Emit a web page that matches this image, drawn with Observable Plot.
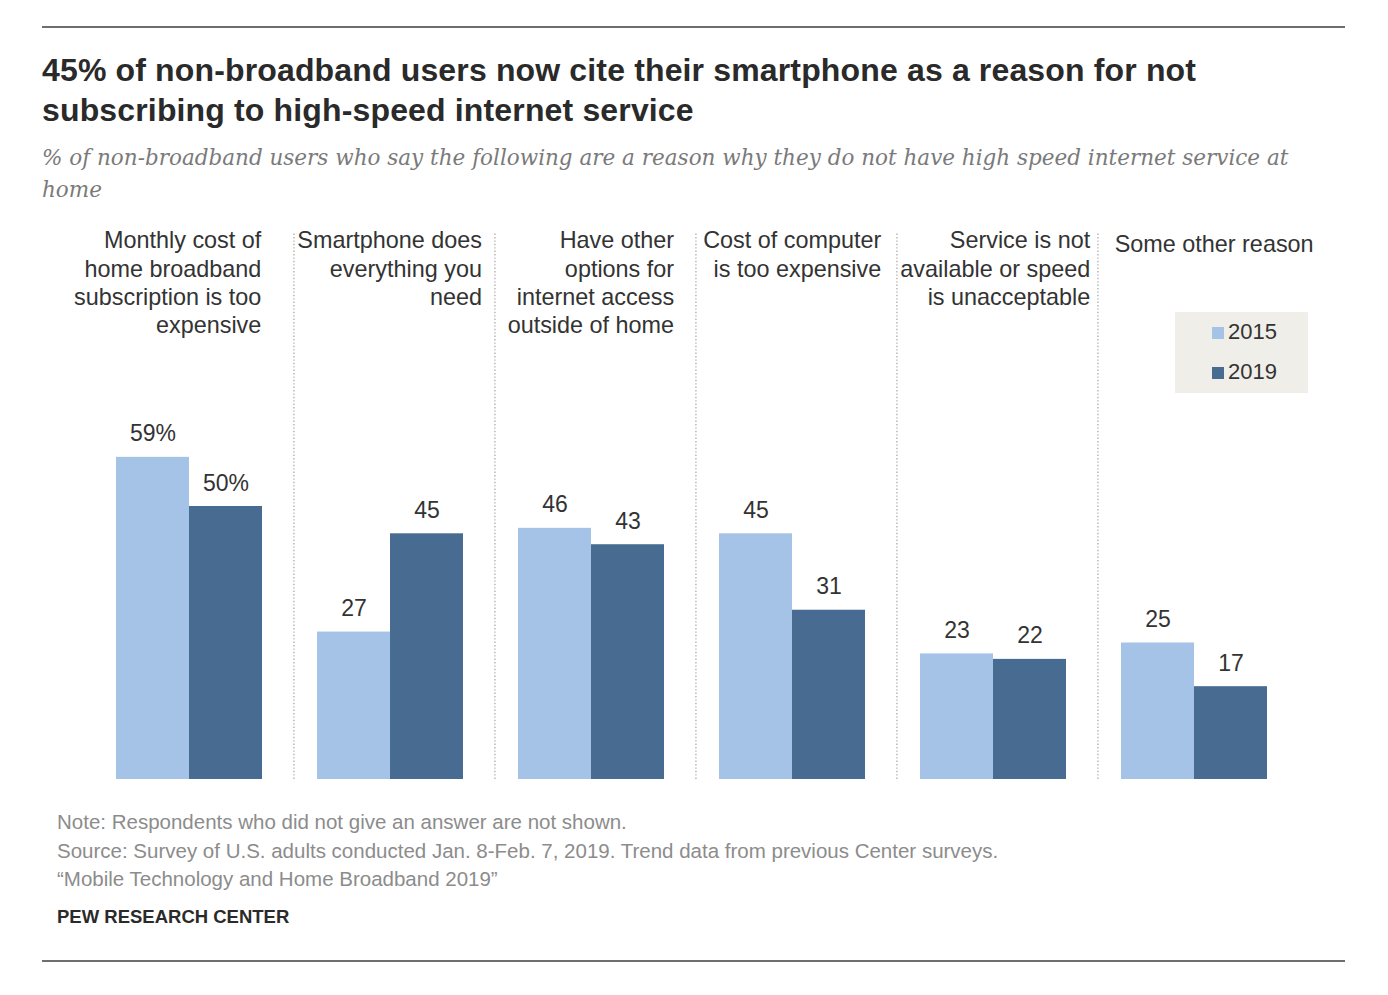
<!DOCTYPE html>
<html>
<head>
<meta charset="utf-8">
<script src="https://cdn.jsdelivr.net/npm/d3@7"></script>
<script src="https://cdn.jsdelivr.net/npm/@observablehq/plot@0.6"></script>
<style>
  html, body { margin: 0; padding: 0; background: #fff; }
  body { width: 1388px; height: 995px; position: relative; overflow: hidden; font-family: "Liberation Sans", Arial, sans-serif; }
  .hrule { position: absolute; left: 42px; width: 1303px; height: 2px; background: #6e6e6e; }
  #title { position: absolute; left: 42px; top: 50px; font-weight: bold; font-size: 32px; letter-spacing: 0.15px; line-height: 40px; color: #2a2a2a; white-space: nowrap; }
  #subtitle { position: absolute; left: 42px; top: 142px; font-family: "DejaVu Serif", serif; font-style: italic; font-size: 21.5px; line-height: 32px; color: #7a7a7a; white-space: nowrap; }
  #chart { position: absolute; left: 0; top: 220px; }
  #legend { position: absolute; left: 1175px; top: 312px; width: 133px; height: 81px; background: #efeee9; }
  .li { position: absolute; left: 37px; font-size: 22px; color: #333; line-height: 24px; height: 24px; }
  .li span.sw { display: inline-block; width: 12px; height: 12px; margin-right: 4px; vertical-align: 0px; }
  #footer { position: absolute; left: 57px; top: 808px; color: #8c8c8c; font-size: 20.5px; line-height: 28.5px; white-space: nowrap; }
  #pew { position: absolute; left: 57px; top: 904px; color: #2a2a2a; font-size: 18.5px; font-weight: bold; line-height: 26px; }
</style>
</head>
<body>
<div class="hrule" style="top:26px"></div>
<div id="title">45% of non-broadband users now cite their smartphone as a reason for not<br>subscribing to high-speed internet service</div>
<div id="subtitle">% of non-broadband users who say the following are a reason why they do not have high speed internet service at<br>home</div>
<div id="chart"></div>
<div id="legend"></div>
<div id="footer">Note: Respondents who did not give an answer are not shown.<br>Source: Survey of U.S. adults conducted Jan. 8-Feb. 7, 2019. Trend data from previous Center surveys.<br>“Mobile Technology and Home Broadband 2019”</div>
<div id="pew">PEW RESEARCH CENTER</div>
<div class="hrule" style="top:960px"></div>
<script>
// ---- data ----
const categories = [
  "Monthly cost of\nhome broadband\nsubscription is too\nexpensive",
  "Smartphone does\neverything you\nneed",
  "Have other\noptions for\ninternet access\noutside of home",
  "Cost of computer\nis too expensive",
  "Service is not\navailable or speed\nis unacceptable",
  "Some other reason"
];
const years = ["2015", "2019"];
const values2015 = [59, 27, 46, 45, 23, 25];
const values2019 = [50, 45, 43, 31, 22, 17];
const colors = ["#a4c3e6", "#476b91"];

const rows = [];
categories.forEach((c, i) => {
  rows.push({category: c, year: years[0], value: values2015[i], first: i === 0});
  rows.push({category: c, year: years[1], value: values2019[i], first: i === 0});
});

// ---- layout ----
const W = 1388, H = 570, mL = 92, mR = 88;
const facetW = (W - mL - mR) / categories.length;
const padOuter = 0.37, align = 0.42;
const step = facetW / (years.length + 2 * padOuter);
const leftPad = (facetW - years.length * step) * align;
const font = "'Liberation Sans', Arial, sans-serif";

const chart = Plot.plot({
  width: W,
  height: H,
  marginLeft: mL,
  marginRight: mR,
  marginTop: 13,
  marginBottom: 11,
  style: {fontFamily: font, background: "transparent", overflow: "visible"},
  fx: {domain: categories, padding: 0, axis: null},
  x: {domain: years, paddingInner: 0, paddingOuter: padOuter, align: align, axis: null},
  y: {domain: [0, 100], axis: null},
  color: {domain: years, range: colors},
  marks: [
    // dotted separators at the left edge of panels 2..6
    Plot.ruleX(categories.slice(1), {fx: d => d, x: () => years[0], y1: 0, y2: 100, dx: -(leftPad + step / 2) - 0.5, stroke: "#b3b3b3", strokeWidth: 1.4, strokeDasharray: "1.4,2"}),
    Plot.barY(rows, {fx: "category", x: "year", y: "value", fill: "year"}),
    Plot.text(rows, {fx: "category", x: "year", y: "value", text: d => d.first ? d.value + "%" : String(d.value), lineAnchor: "bottom", dy: -16, fontSize: 23, fill: "#333"}),
    Plot.text(categories, {fx: d => d, text: d => d, frameAnchor: "top", textAnchor: "end", lineAnchor: "top", dy: -5, fontSize: 23.4, lineHeight: 1.2, fill: "#333", className: "hdr"})
  ]
});
document.getElementById("chart").appendChild(chart);

// header blocks: lines right-aligned, block centred on its bar group;
// the outer panels hug their outside edge
const svgLeft = chart.getBoundingClientRect().left;
const hdrs = chart.querySelectorAll("g.hdr text");
const last = hdrs.length - 1;
hdrs.forEach((t, i) => {
  const r = t.getBoundingClientRect();
  const left = r.left - svgLeft, right = r.right - svgLeft;
  const facetLeft = mL + i * facetW;
  const groupCenter = facetLeft + leftPad + step * years.length / 2;
  let shift, shiftY = 0;
  if (i === 0) {
    shift = (facetLeft + leftPad + years.length * step) - right;
  } else if (i === last) {
    shift = (facetLeft + 16) - left;
    shiftY = 4;
  } else {
    shift = groupCenter - (left + right) / 2;
    const minLeft = facetLeft + 3;
    if (left + shift < minLeft) shift = minLeft - left;
  }
  const tr = t.getAttribute("transform") || "";
  t.setAttribute("transform", (tr + ` translate(${shift},${shiftY})`).trim());
});

// legend
const legend = document.getElementById("legend");
years.forEach((y, i) => {
  const d = document.createElement("div");
  d.className = "li";
  d.style.top = (8 + i * 40) + "px";
  d.innerHTML = `<span class="sw" style="background:${colors[i]}"></span>${y}`;
  legend.appendChild(d);
});
</script>
</body>
</html>
